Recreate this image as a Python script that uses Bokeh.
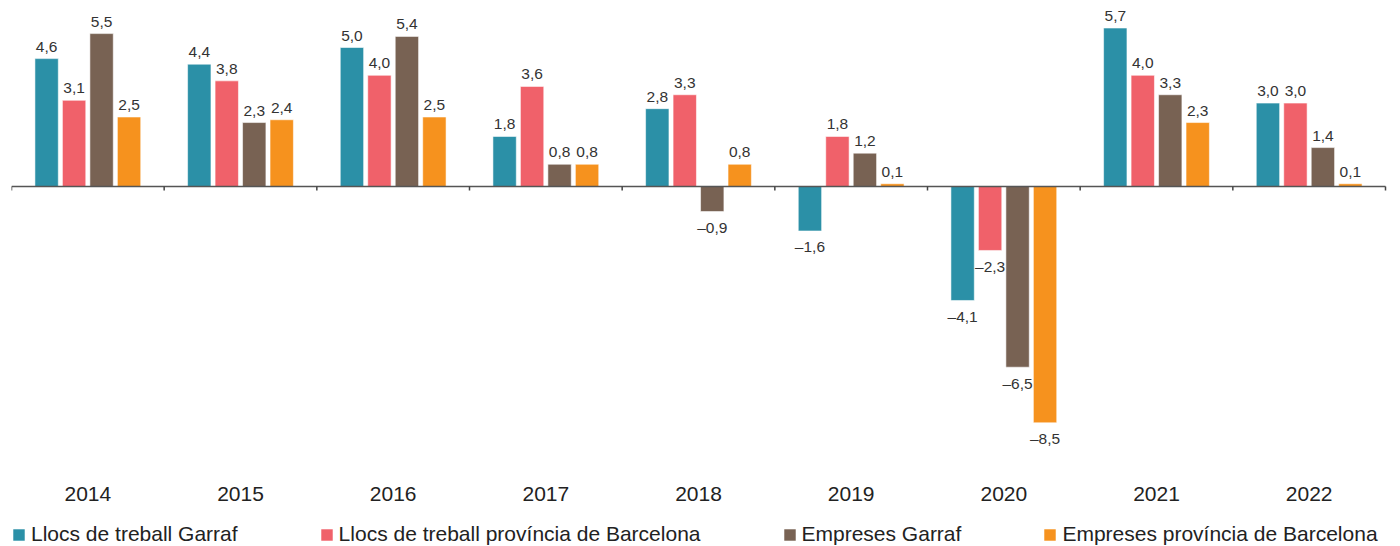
from bokeh.plotting import figure
from bokeh.models import ColumnDataSource, Legend, LegendItem, Range1d
from bokeh.core.properties import value
from bokeh.embed import file_html
from bokeh.resources import INLINE

years = ["2014", "2015", "2016", "2017", "2018", "2019", "2020", "2021", "2022"]
series_names = ["Llocs de treball Garraf", "Llocs de treball província de Barcelona",
                "Empreses Garraf", "Empreses província de Barcelona"]
llocs_garraf = [4.6, 4.4, 5.0, 1.8, 2.8, -1.6, -4.1, 5.7, 3.0]
llocs_bcn = [3.1, 3.8, 4.0, 3.6, 3.3, 1.8, -2.3, 4.0, 3.0]
empreses_garraf = [5.5, 2.3, 5.4, 0.8, -0.9, 1.2, -6.5, 3.3, 1.4]
empreses_bcn = [2.5, 2.4, 2.5, 0.8, 0.8, 0.1, -8.5, 2.3, 0.1]

colors = ["#2B90A7", "#F0616A", "#786253", "#F6921E"]
offsets = [-0.27, -0.09, 0.09, 0.27]
bar_w = 0.153
FONT = "Liberation Sans"

W, H = 1400, 546
PX_PER_UNIT = 27.8
ZERO_FROM_TOP = 186  # px
LEFT = 11
GROUP_PX = (1385 - LEFT) / 9
y_end = ZERO_FROM_TOP / PX_PER_UNIT
y_start = -(H - ZERO_FROM_TOP) / PX_PER_UNIT
x_end = (W - LEFT) / GROUP_PX

p = figure(width=W, height=H, output_backend="svg", toolbar_location=None,
           x_axis_type=None, y_axis_type=None,
           x_range=Range1d(0, x_end), y_range=Range1d(y_start, y_end),
           min_border_left=LEFT, min_border_right=0, min_border_top=0, min_border_bottom=0)
p.grid.visible = False
p.outline_line_color = None
p.background_fill_color = "white"

def fmt(v):
    s = f"{abs(v):.1f}".replace(".", ",")
    return ("–" + s) if v < 0 else s

items = []
for k, vals in enumerate([llocs_garraf, llocs_bcn, empreses_garraf, empreses_bcn]):
    xs = [i + 0.5 + offsets[k] for i in range(len(years))]
    src = ColumnDataSource(dict(x=xs, top=vals, lab=[fmt(v) for v in vals],
                                yoff=[-12 if v >= 0 else 16 for v in vals]))
    r = p.vbar(x="x", top="top", bottom=0, width=bar_w, source=src,
               fill_color=colors[k], line_color="white", line_alpha=0.55, line_width=1)
    items.append(LegendItem(label=series_names[k], renderers=[r]))
    p.text(x="x", y="top", text="lab", source=src, y_offset="yoff",
           text_align="center", text_baseline="alphabetic",
           text_font=value(FONT), text_font_size="15.5px", text_color="#333333")

# zero line and boundary ticks
p.segment(x0=[0], y0=[0], x1=[9], y1=[0], line_color="#555555", line_width=1.5)
tick_len = 4 / PX_PER_UNIT
bx = list(range(len(years) + 1))
p.segment(x0=bx, y0=[0] * len(bx), x1=bx, y1=[-tick_len] * len(bx),
          line_color="#444444", line_width=1.5)

# year labels
YEAR_BASELINE_FROM_TOP = 493
year_y = (ZERO_FROM_TOP - YEAR_BASELINE_FROM_TOP) / PX_PER_UNIT
p.text(x=[i + 0.5 for i in range(len(years))], y=[year_y] * len(years), text=years,
       text_align="center", text_baseline="alphabetic",
       text_font=value(FONT), text_font_size="21px", text_color="#222222")

legend = Legend(items=items, orientation="horizontal", location=(0, 0),
                glyph_width=15, glyph_height=15, label_standoff=5, spacing=81,
                padding=1, margin=0, border_line_color=None, background_fill_alpha=0,
                label_text_font=FONT, label_text_font_size="21px",
                label_text_color="#222222", label_height=16)
p.add_layout(legend)

open("out.html", "w").write(file_html(p, INLINE))
